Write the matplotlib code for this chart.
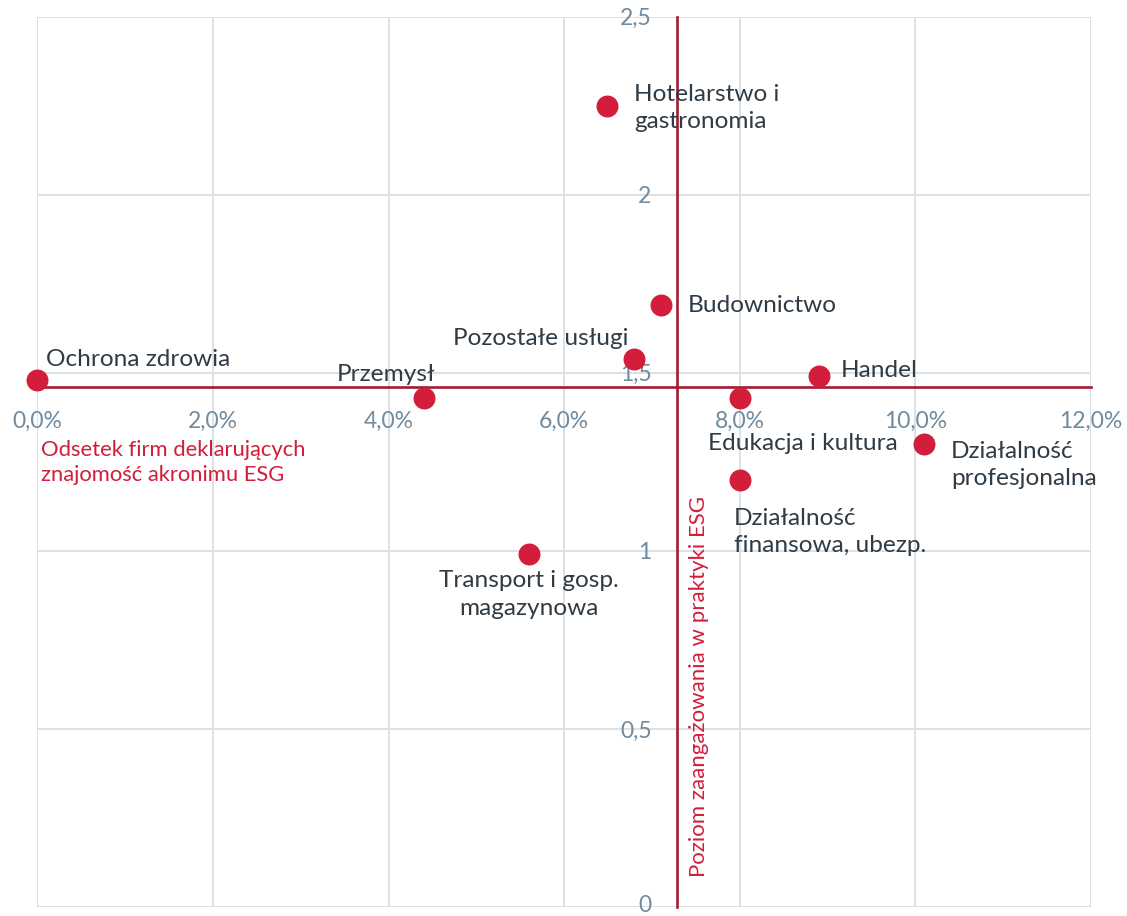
import matplotlib.pyplot as plt
import matplotlib.transforms as mtransforms
from matplotlib.ticker import FuncFormatter

plt.rcParams["font.family"] = ["Lato", "DejaVu Sans"]

sectors = [
    "Ochrona zdrowia",
    "Przemysł",
    "Transport i gosp.\nmagazynowa",
    "Hotelarstwo i\ngastronomia",
    "Pozostałe usługi",
    "Budownictwo",
    "Edukacja i kultura",
    "Działalność\nfinansowa, ubezp.",
    "Handel",
    "Działalność\nprofesjonalna",
]
awareness = [0.0, 4.40, 5.60, 6.49, 6.80, 7.10, 8.00, 8.00, 8.90, 10.10]
engagement = [1.48, 1.43, 0.99, 2.25, 1.54, 1.69, 1.43, 1.20, 1.49, 1.30]

cross_x = 7.28
cross_y = 1.46

# label offsets in pixels (dx, dy) and alignment
label_pos = [
    (9, 20, "left"),
    (12, 23, "right"),
    (0, -40, "center"),
    (27, -2, "left"),
    (-6, 20, "right"),
    (27, 0, "left"),
    (63, -46, "center"),
    (-6, -52, "left"),
    (22, 6, "left"),
    (27, -21, "left"),
]

dot_color = "#D21E3A"
axis_color = "#A31A33"
tick_color = "#708A9E"
text_color = "#2F3B45"
grid_color = "#D9DEE4"

fig = plt.figure(figsize=(11.27, 9.16), dpi=100)
ax = fig.add_axes([37.4 / 1127, 9 / 916, (1091 - 37.4) / 1127, (907 - 16.7) / 916])

ax.set_xlim(0, 12)
ax.set_ylim(0, 2.5)
ax.set_xticks([0, 2, 4, 6, 8, 10, 12])
ax.set_yticks([0, 0.5, 1, 1.5, 2, 2.5])
ax.xaxis.set_major_formatter(FuncFormatter(lambda v, p: f"{v:.1f}%".replace(".", ",")))
ax.yaxis.set_major_formatter(FuncFormatter(lambda v, p: f"{v:g}".replace(".", ",")))
ax.grid(True, color=grid_color, linewidth=1.3)
ax.set_axisbelow(True)

for s in ["top", "right"]:
    ax.spines[s].set_visible(False)
ax.spines["bottom"].set_position(("data", cross_y))
ax.spines["left"].set_position(("data", cross_x))
for s in ["bottom", "left"]:
    ax.spines[s].set_color(axis_color)
    ax.spines[s].set_linewidth(1.9)
    ax.spines[s].set_zorder(1.5)

ax.tick_params(axis="both", length=0, labelsize=16.5, labelcolor=tick_color)
ax.tick_params(axis="x", pad=17)
ax.tick_params(axis="y", pad=18)

# keep the bottom "0" inside the figure
zero_tick = ax.yaxis.get_major_ticks()[0]
zero_tick.label1.set_transform(zero_tick.label1.get_transform()
                               + mtransforms.ScaledTranslation(0, 4 / 100, fig.dpi_scale_trans))

ax.scatter(awareness, engagement, s=250, color=dot_color, zorder=3, clip_on=False, linewidths=0)

for name, x, y, (dx, dy, ha) in zip(sectors, awareness, engagement, label_pos):
    ax.annotate(name, (x, y), xytext=(dx * 0.72, dy * 0.72), textcoords="offset points",
                ha=ha, va="center", multialignment=ha, fontsize=17.6,
                color=text_color, linespacing=1.37, zorder=4)

ax.text(0.003, 0.525, "Odsetek firm deklarujących\nznajomość akronimu ESG",
        transform=ax.transAxes, ha="left", va="top", fontsize=15.8,
        color=dot_color, linespacing=1.35)
ax.text(0.6275, 0.248, "Poziom zaangażowania w praktyki ESG",
        transform=ax.transAxes, ha="center", va="center", rotation=90,
        fontsize=16, color=dot_color)

fig.savefig("out.png", dpi=100)
